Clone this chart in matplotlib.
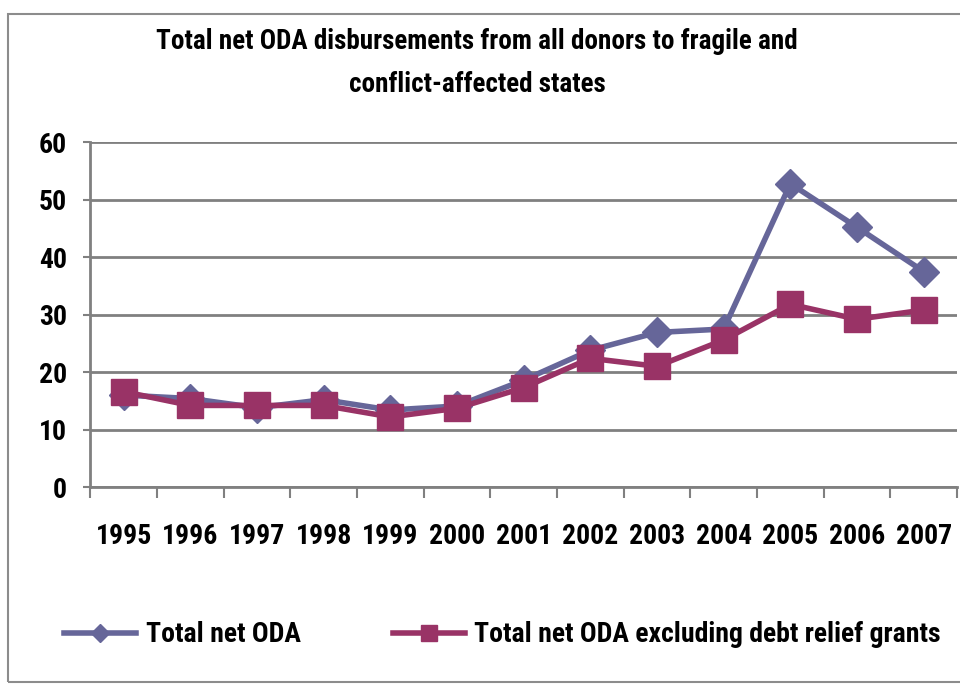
import matplotlib
matplotlib.use("Agg")
import matplotlib.pyplot as plt
from matplotlib.patches import Rectangle
from matplotlib import font_manager
import numpy as np

names = {f.name for f in font_manager.fontManager.ttflist}
narrow = [n for n in ['Liberation Sans Narrow', 'Roboto Condensed', 'Open Sans Condensed', 'Lato'] if n in names]
plt.rcParams['font.family'] = narrow + ['DejaVu Sans']
plt.rcParams['font.weight'] = 'bold'

# values (USD billion)
years = ['1995', '1996', '1997', '1998', '1999', '2000', '2001',
         '2002', '2003', '2004', '2005', '2006', '2007']
total_oda = [16.0, 15.4, 13.8, 15.2, 13.4, 14.1, 18.6,
             23.8, 26.9, 27.5, 52.8, 45.2, 37.5]
oda_excl_debt = [16.6, 14.2, 14.2, 14.2, 12.2, 13.7, 17.3,
                 22.4, 21.0, 25.6, 31.8, 29.2, 30.8]

grid_col = '#808080'

fig = plt.figure(figsize=(9.6, 6.84), dpi=100)
ax = fig.add_axes([0.094, 0.288, 0.903, 0.504])

# outer chart border
fig.patches.append(Rectangle((8 / 960, 2 / 684), 1.0, 668 / 684, transform=fig.transFigure,
                             fill=False, edgecolor='#8c8c8c', linewidth=1.5))

x = np.arange(len(years))
ax.plot(x, total_oda, color='#666699', linewidth=4, marker='D',
        markersize=15.5, label='Total net ODA', zorder=3)
ax.plot(x, oda_excl_debt, color='#993366', linewidth=4, marker='s',
        markersize=19, label='Total net ODA excluding debt relief grants', zorder=4)

ax.set_ylim(0, 60)
ax.set_xlim(-0.5, len(years) - 0.5)
ax.set_yticks(range(0, 61, 10))
ax.yaxis.grid(True, color=grid_col, linewidth=2)
ax.set_axisbelow(True)

ax.set_xticks(x)
ax.set_xticklabels(years)
ax.set_xticks(np.arange(-0.5, len(years), 1), minor=True)
ax.tick_params(axis='x', which='major', length=0, pad=26, labelsize=20)
ax.tick_params(axis='x', which='minor', length=8, width=1.5, color=grid_col, direction='out')
ax.tick_params(axis='y', length=5, width=1.5, color=grid_col, labelsize=20, pad=12)

for s in ['top', 'right']:
    ax.spines[s].set_visible(False)
for s in ['left', 'bottom']:
    ax.spines[s].set_color(grid_col)
    ax.spines[s].set_linewidth(2)

fig.text(0.497, 0.94, 'Total net ODA disbursements from all donors to fragile and',
         ha='center', va='center', fontsize=19.5, fontweight='bold')
fig.text(0.497, 0.877, 'conflict-affected states',
         ha='center', va='center', fontsize=19.5, fontweight='bold')

fig.legend(loc='center left', bbox_to_anchor=(0.055, 0.072), ncol=2, frameon=False,
           fontsize=20, handlelength=2.6, columnspacing=3.3, handletextpad=0.35,
           markerscale=0.6, borderaxespad=0)

fig.savefig('out.png', dpi=100)
